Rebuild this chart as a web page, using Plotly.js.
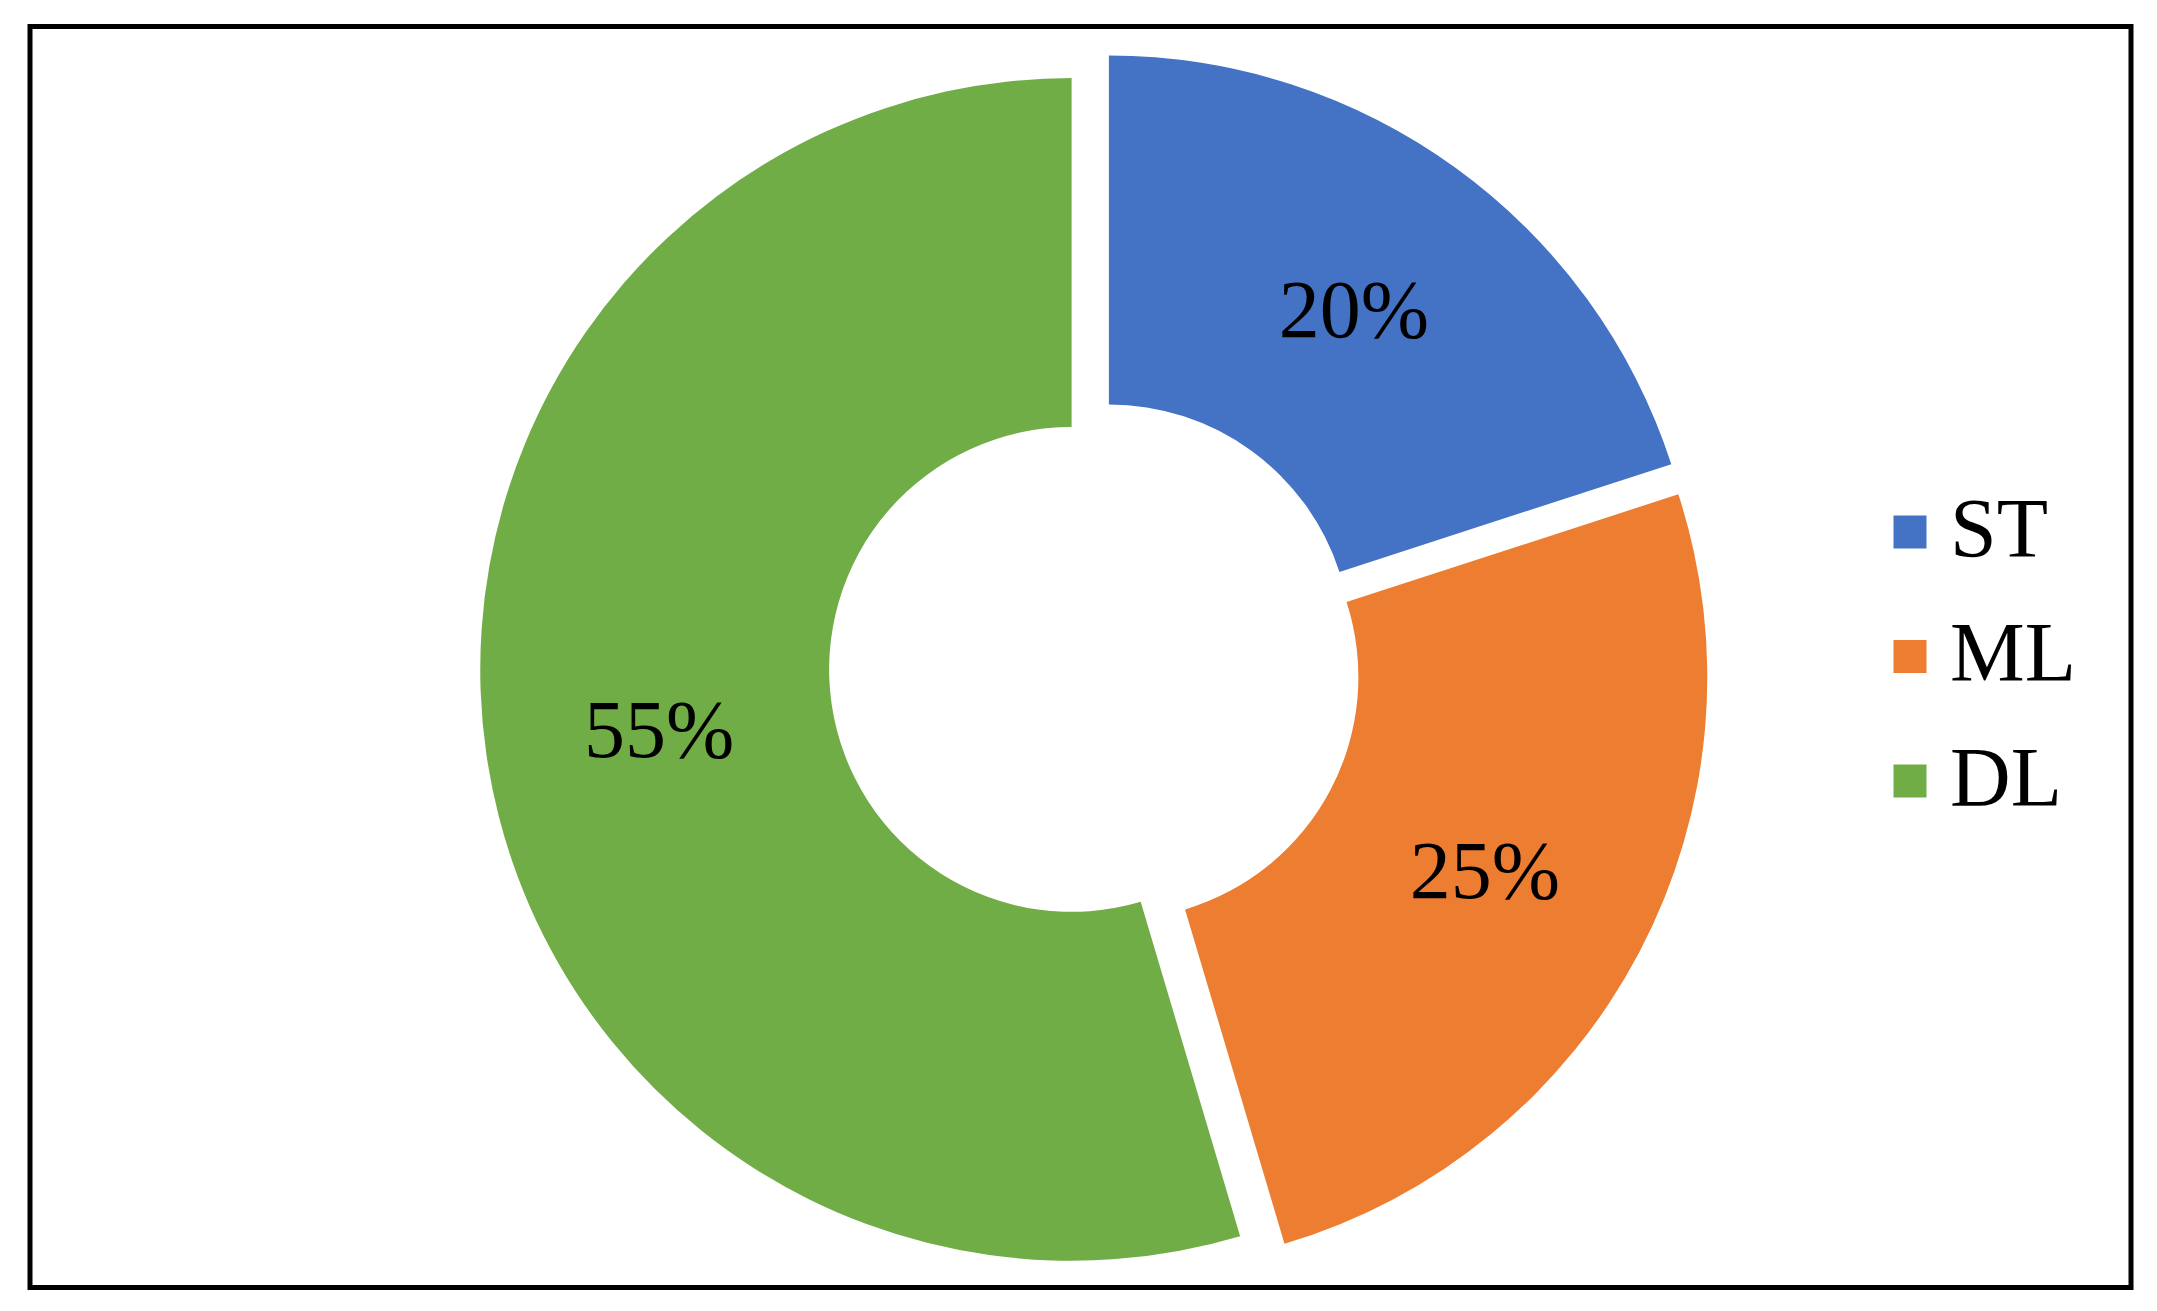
<!DOCTYPE html>
<html>
<head>
<meta charset="utf-8">
<script src="https://cdn.plot.ly/plotly-3.0.1.min.js"></script>
<style>
  html, body { margin: 0; padding: 0; background: #fff; }
  #chart { width: 2157px; height: 1311px; }
</style>
</head>
<body>
<div id="chart"></div>
<script>
var labels = ['ST', 'ML', 'DL'];
var values = [20, 25.4, 54.6];
var colors = ['#4472C4', '#ED7D31', '#70AD47'];

var W = 2157, H = 1311;
var serif = '"Liberation Serif", "Times New Roman", serif';

function px(x) { return x / W; }
function py(y) { return 1 - y / H; }

var trace = {
  type: 'pie',
  labels: labels,
  values: values,
  marker: { colors: colors, line: { width: 0 } },
  hole: 0.41,
  pull: 0.04,
  sort: false,
  direction: 'clockwise',
  rotation: 0,
  texttemplate: '%{percent:.0%}',
  textposition: 'inside',
  insidetextorientation: 'horizontal',
  textfont: { family: serif, size: 82, color: '#000' },
  domain: { x: [px(480), px(1710)], y: [py(1281), py(51)] },
  hoverinfo: 'label+percent',
  showlegend: false
};

// frame round the chart
var shapes = [{
  type: 'rect', xref: 'paper', yref: 'paper',
  x0: px(30), x1: px(2131), y0: py(1287.5), y1: py(26.5),
  line: { color: '#000', width: 5 }, fillcolor: 'rgba(0,0,0,0)'
}];
var annotations = [];

// legend on the right
var legX = 1910, legY = 532, legStep = 124.5, sq = 33;
for (let i = 0; i < labels.length; i++) {
  var yc = legY + i * legStep;
  shapes.push({
    type: 'rect', xref: 'paper', yref: 'paper',
    x0: px(legX - sq / 2), x1: px(legX + sq / 2),
    y0: py(yc + sq / 2), y1: py(yc - sq / 2),
    line: { width: 0 }, fillcolor: colors[i]
  });
  annotations.push({
    xref: 'paper', yref: 'paper',
    x: px(legX + 38), y: py(yc - 4),
    xanchor: 'left', yanchor: 'middle',
    text: labels[i], showarrow: false,
    font: { family: serif, size: 84, color: '#000' }
  });
}

var layout = {
  width: W, height: H,
  margin: { l: 0, r: 0, t: 0, b: 0 },
  paper_bgcolor: '#fff',
  showlegend: false,
  shapes: shapes,
  annotations: annotations
};

Plotly.newPlot('chart', [trace], layout, { displayModeBar: false, staticPlot: true });
</script>
</body>
</html>
